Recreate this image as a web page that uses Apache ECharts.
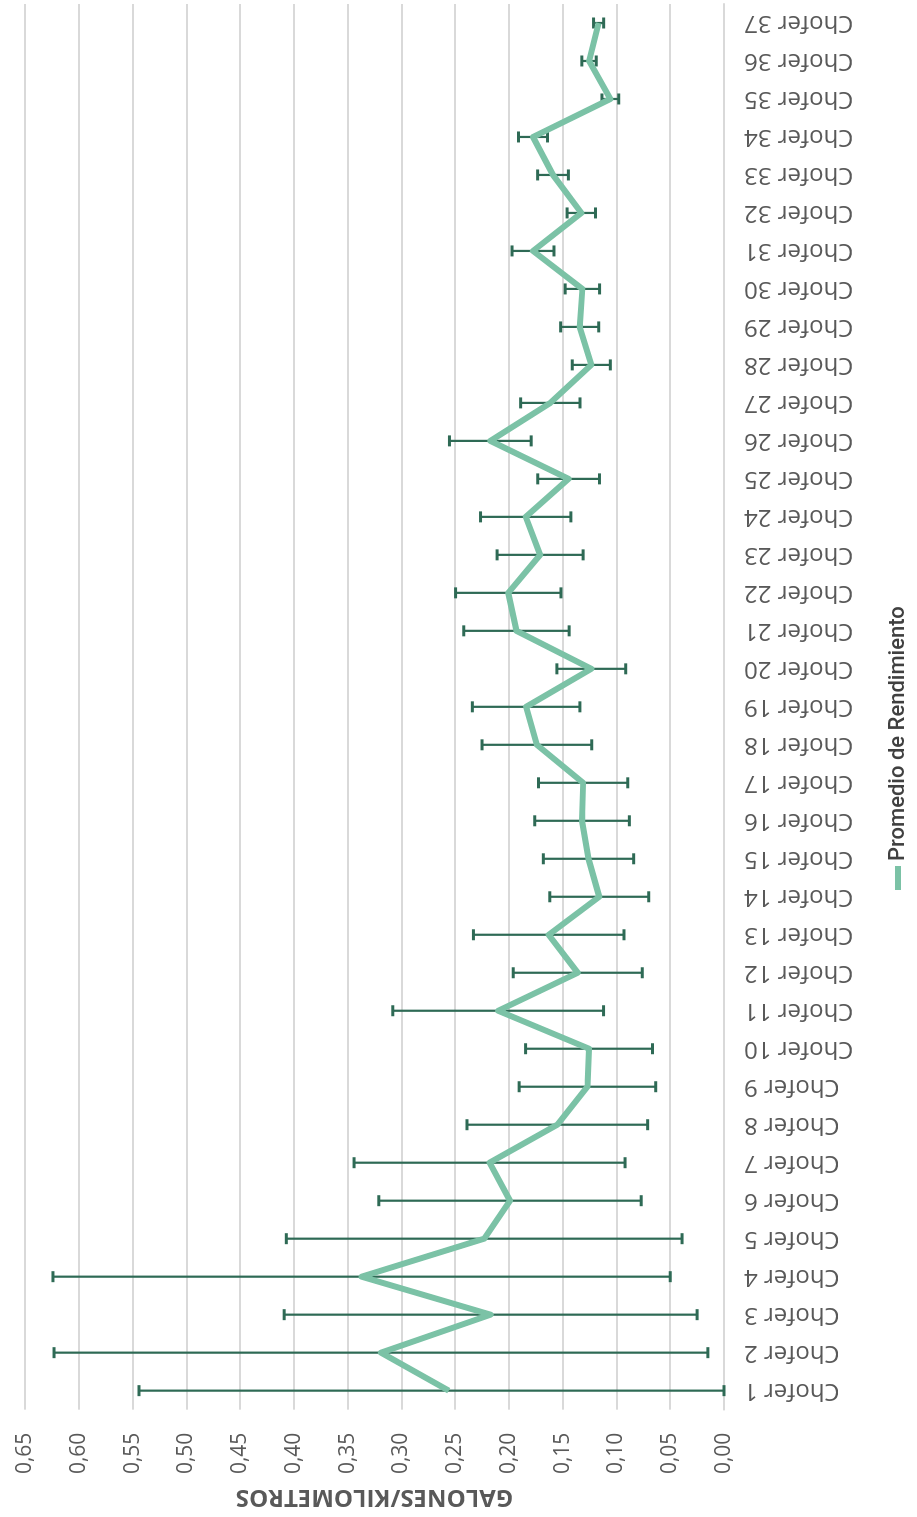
<!DOCTYPE html>
<html>
<head>
<meta charset="utf-8">
<style>
  html, body { margin: 0; padding: 0; background: #ffffff; overflow: hidden; }
  #wrap { position: absolute; left: 0; top: 0; width: 917px; height: 1517px; overflow: hidden; }
  /* the chart is laid out landscape and turned a quarter turn counter-clockwise */
  #chart {
    position: absolute; left: 0; top: 0;
    width: 1517px; height: 917px;
    transform-origin: 0 0;
    transform: translate(0, 1517px) rotate(-90deg);
  }
</style>
<script src="https://cdn.jsdelivr.net/npm/echarts@6/dist/echarts.min.js"></script>
</head>
<body>
<div id="wrap"><div id="chart"></div></div>
<script>
const categorias = [
  'Chofer 1', 'Chofer 2', 'Chofer 3', 'Chofer 4', 'Chofer 5', 'Chofer 6', 'Chofer 7',
  'Chofer 8', 'Chofer 9', 'Chofer 10', 'Chofer 11', 'Chofer 12', 'Chofer 13', 'Chofer 14',
  'Chofer 15', 'Chofer 16', 'Chofer 17', 'Chofer 18', 'Chofer 19', 'Chofer 20', 'Chofer 21',
  'Chofer 22', 'Chofer 23', 'Chofer 24', 'Chofer 25', 'Chofer 26', 'Chofer 27', 'Chofer 28',
  'Chofer 29', 'Chofer 30', 'Chofer 31', 'Chofer 32', 'Chofer 33', 'Chofer 34', 'Chofer 35',
  'Chofer 36', 'Chofer 37'
];

// promedio de galones por kilometro de cada chofer
const promedio = [
  0.256, 0.319, 0.217, 0.337, 0.223, 0.199, 0.218, 0.155, 0.127, 0.1255,
  0.210, 0.136, 0.163, 0.116, 0.126, 0.132, 0.131, 0.174, 0.184, 0.1234,
  0.193, 0.2006, 0.171, 0.1844, 0.1445, 0.2173, 0.1615, 0.1234, 0.1342, 0.1317,
  0.1776, 0.1327, 0.159, 0.1776, 0.1057, 0.1255, 0.1166
];

// desviacion usada para las barras de error
const desviacion = [
  0.288, 0.304, 0.192, 0.287, 0.184, 0.122, 0.126, 0.084, 0.0635, 0.059,
  0.098, 0.060, 0.070, 0.046, 0.042, 0.044, 0.0415, 0.051, 0.050, 0.032,
  0.049, 0.049, 0.040, 0.042, 0.0287, 0.038, 0.0276, 0.0177, 0.0177, 0.016,
  0.0195, 0.0132, 0.0143, 0.0135, 0.0078, 0.0067, 0.0047
];

const ejeMin = 0;
const ejeMax = 0.65;
const ejePaso = 0.05;

const serieNombre = 'Promedio de Rendimiento';
const ejeTitulo = 'GALONES/KILOMETROS';

// barras de error: [indice, inferior, superior], recortadas en el minimo del eje
const barrasError = promedio.map((m, i) => [
  i,
  Math.max(ejeMin, m - desviacion[i]),
  Math.min(ejeMax, m + desviacion[i])
]);

const chart = echarts.init(document.getElementById('chart'), null, { renderer: 'canvas' });

chart.setOption({
  animation: false,
  backgroundColor: '#ffffff',
  grid: { left: 102, right: 4, top: 25, bottom: 193, containLabel: false },
  legend: {
    data: [serieNombre],
    left: 622,
    top: 882,
    icon: 'rect',
    itemWidth: 24,
    itemHeight: 6,
    itemGap: 6,
    textStyle: { fontFamily: 'Roboto', fontSize: 22, fontWeight: 500, color: '#404040' }
  },
  xAxis: {
    type: 'category',
    data: categorias,
    boundaryGap: true,
    axisLine: { show: true, lineStyle: { color: '#D9D9D9', width: 2 } },
    axisTick: { show: false },
    axisLabel: {
      interval: 0,
      rotate: 90,
      margin: 20,
      fontFamily: 'Open Sans',
      fontSize: 24,
      color: '#595959'
    }
  },
  yAxis: {
    type: 'value',
    min: ejeMin,
    max: ejeMax,
    interval: ejePaso,
    name: ejeTitulo,
    nameLocation: 'middle',
    nameRotate: 90,
    nameGap: 75,
    nameTextStyle: { fontFamily: 'Open Sans', fontSize: 24, fontWeight: 'bold', color: '#595959' },
    axisLine: { show: false },
    axisTick: { show: false },
    splitLine: { show: true, lineStyle: { color: '#D9D9D9', width: 2 } },
    axisLabel: {
      margin: 23,
      fontFamily: 'Open Sans',
      fontSize: 21,
      color: '#595959',
      formatter: v => v.toFixed(2).replace('.', ',')
    }
  },
  series: [
    {
      type: 'custom',
      name: 'error',
      z: 2,
      data: barrasError,
      encode: { x: 0, y: [1, 2] },
      renderItem: (params, api) => {
        const idx = api.value(0);
        const lo = api.coord([idx, api.value(1)]);
        const hi = api.coord([idx, api.value(2)]);
        const cap = 5.5;
        const style = { stroke: '#2E6A55', lineWidth: 2.2, fill: null };
        return {
          type: 'group',
          children: [
            { type: 'line', shape: { x1: lo[0], y1: lo[1], x2: hi[0], y2: hi[1] }, style },
            { type: 'line', shape: { x1: lo[0] - cap, y1: lo[1], x2: lo[0] + cap, y2: lo[1] }, style: Object.assign({}, style, { lineWidth: 3 }) },
            { type: 'line', shape: { x1: hi[0] - cap, y1: hi[1], x2: hi[0] + cap, y2: hi[1] }, style: Object.assign({}, style, { lineWidth: 3 }) }
          ]
        };
      }
    },
    {
      type: 'line',
      name: serieNombre,
      z: 3,
      data: promedio,
      symbol: 'none',
      smooth: false,
      lineStyle: { color: '#7BC2A6', width: 6, join: 'round' },
      itemStyle: { color: '#7BC2A6' }
    }
  ]
});
</script>
</body>
</html>
